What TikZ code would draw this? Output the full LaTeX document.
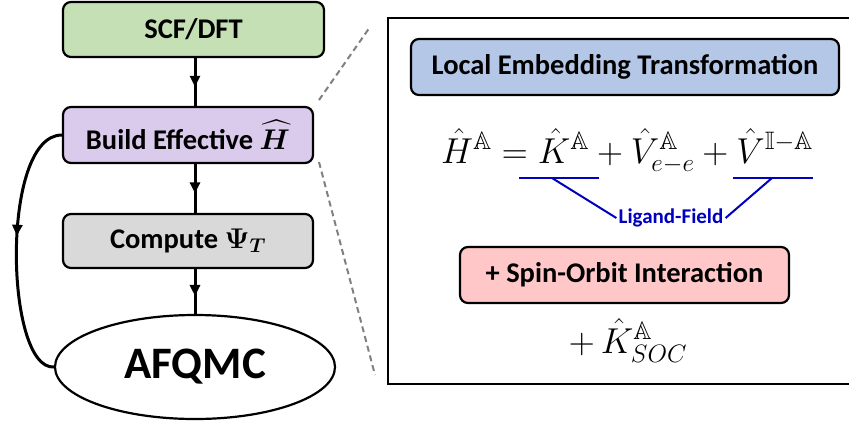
\documentclass[tikz,border=0pt]{standalone}
\usepackage{fix-cm}
\usepackage{amsmath,amssymb,bm}
\usepackage{fontspec}
\setmainfont{Carlito}
\usetikzlibrary{shapes.geometric,decorations.markings,arrows.meta}
\definecolor{boxgreen}{RGB}{197,224,180}
\definecolor{boxpurple}{RGB}{218,202,236}
\definecolor{boxgray}{RGB}{217,217,217}
\definecolor{boxblue}{RGB}{180,199,231}
\definecolor{boxpink}{RGB}{255,199,199}
\definecolor{ligblue}{RGB}{0,0,192}
\definecolor{dashgray}{RGB}{128,128,128}
\tikzset{
  flowbox/.style={draw=black, line width=2.2pt, rounded corners=8pt, font=\fontsize{28.5}{33}\selectfont\bfseries, inner sep=0pt},
  midarrow/.style={line width=3pt, postaction={decorate}, decoration={markings, mark=at position #1 with {\arrow{Triangle[length=11pt,width=10pt]}}}},
  zoomline/.style={dashgray, line width=2pt, dash pattern=on 6pt off 4pt},
  ligline/.style={ligblue, line width=2pt},
}
\begin{document}
\begin{tikzpicture}[x=1pt,y=-1pt]
\useasboundingbox (0,0) rectangle (849,421);
% left flow
\node[flowbox, fill=boxgreen, minimum width=261pt, minimum height=55pt] (scf) at (193.5,29.5) {SCF/DFT};
\node[flowbox, fill=boxpurple, minimum width=250pt, minimum height=56pt] (build) at (188,135) {Build Effective $\bm{\widehat{H}}$};
\node[flowbox, fill=boxgray, minimum width=250pt, minimum height=54pt] (comp) at (188,241) {Compute $\bm{\Psi}_{\bm{T}}$};
\node[ellipse, draw=black, line width=2.2pt, fill=white, minimum width=280pt, minimum height=104pt, inner sep=0pt, font=\fontsize{45}{52}\selectfont\bfseries] (afq) at (195,367) {AFQMC};
\draw[midarrow=0.6] (scf.south -| 195,0) -- (build.north -| 195,0);
\draw[midarrow=0.6] (build.south -| 195,0) -- (comp.north -| 195,0);
\draw[midarrow=0.6] (comp.south -| 195,0) -- (afq.north);
\draw[midarrow=0.45] (build.west) .. controls (0,135) and (5,370) .. (afq.west);
% zoom lines
\draw[zoomline] (319,100) -- (370,27);
\draw[zoomline] (319,162) -- (375,375);
% right panel
\draw[black, line width=2.2pt] (860,18) -- (388,18) -- (388,384) -- (860,384);
\node[flowbox, fill=boxblue, minimum width=428pt, minimum height=56pt] (let) at (625,67) {Local Embedding Transformation};
\node[anchor=base, inner sep=0pt, font=\fontsize{36}{42}\selectfont] (eq) at (627,163) {$\hat{H}^{\mathbb{A}} = \hat{K}^{\mathbb{A}} + \hat{V}^{\mathbb{A}}_{e-e} + \hat{V}^{\mathbb{I}-\mathbb{A}}$};
\coordinate (u1a) at (519,178);
\coordinate (u1b) at (599,178);
\coordinate (u2a) at (733,178);
\coordinate (u2b) at (813,178);
\coordinate (u1m) at (552,178);
\coordinate (u2m) at (772,178);
\node[text=ligblue, font=\fontsize{21}{25}\selectfont\bfseries, inner sep=2pt] (lig) at (671,218) {Ligand-Field};
\draw[ligline] (u1a) -- (u1b);
\draw[ligline] (u2a) -- (u2b);
\draw[ligline] (u1m) -- (lig.west);
\draw[ligline] (u2m) -- (lig.east);
\node[flowbox, fill=boxpink, minimum width=329pt, minimum height=56pt] (soc) at (624.5,275) {+ Spin-Orbit Interaction};
\node[anchor=base, inner sep=0pt, font=\fontsize{36}{42}\selectfont] (ksoc) at (628,353) {$+\,\hat{K}^{\mathbb{A}}_{SOC}$};
\end{tikzpicture}
\end{document}
